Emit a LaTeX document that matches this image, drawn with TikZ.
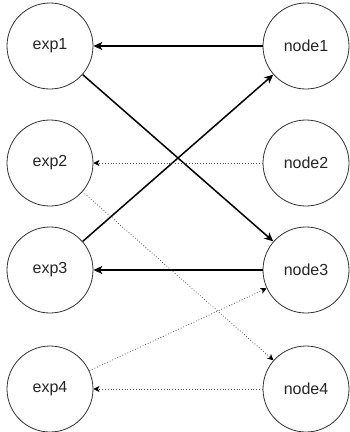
\documentclass[tikz,border=0pt]{standalone}
\usepackage{fontspec}
\setmainfont{Liberation Sans}
\usetikzlibrary{arrows.meta}
\begin{document}
\begin{tikzpicture}[x=1pt,y=-1pt,
  vnode/.style={circle,draw=black!80,line width=0.8pt,minimum size=86pt,inner sep=0pt,font=\fontsize{16}{19}\selectfont,text=black!85},
  strong/.style={line width=1.5pt,-{Stealth[length=9pt,width=8pt,inset=2.5pt]}},
  weak/.style={line width=0.8pt,black!65,dotted,-{Stealth[length=6pt,width=6pt,inset=1.5pt,black]}}]
\useasboundingbox (0,0) rectangle (349,432);
\node[vnode] (e1) at (50,46) {exp1};
\node[vnode] (e2) at (50,163) {exp2};
\node[vnode] (e3) at (50,270) {exp3};
\node[vnode] (e4) at (50,389) {exp4};
\node[vnode] (n1) at (306,46) {node1};
\node[vnode] (n2) at (306,163) {node2};
\node[vnode] (n3) at (306,270) {node3};
\node[vnode] (n4) at (306,389) {node4};
\draw[strong] (n1) -- (e1);
\draw[strong] (e1) -- (n3);
\draw[strong] (e3) -- (n1);
\draw[strong] (n3) -- (e3);
\draw[weak] (n2) -- (e2);
\draw[weak] (e2) -- (n4);
\draw[weak] (e4) -- (n3);
\draw[weak] (n4) -- (e4);
\end{tikzpicture}
\end{document}
